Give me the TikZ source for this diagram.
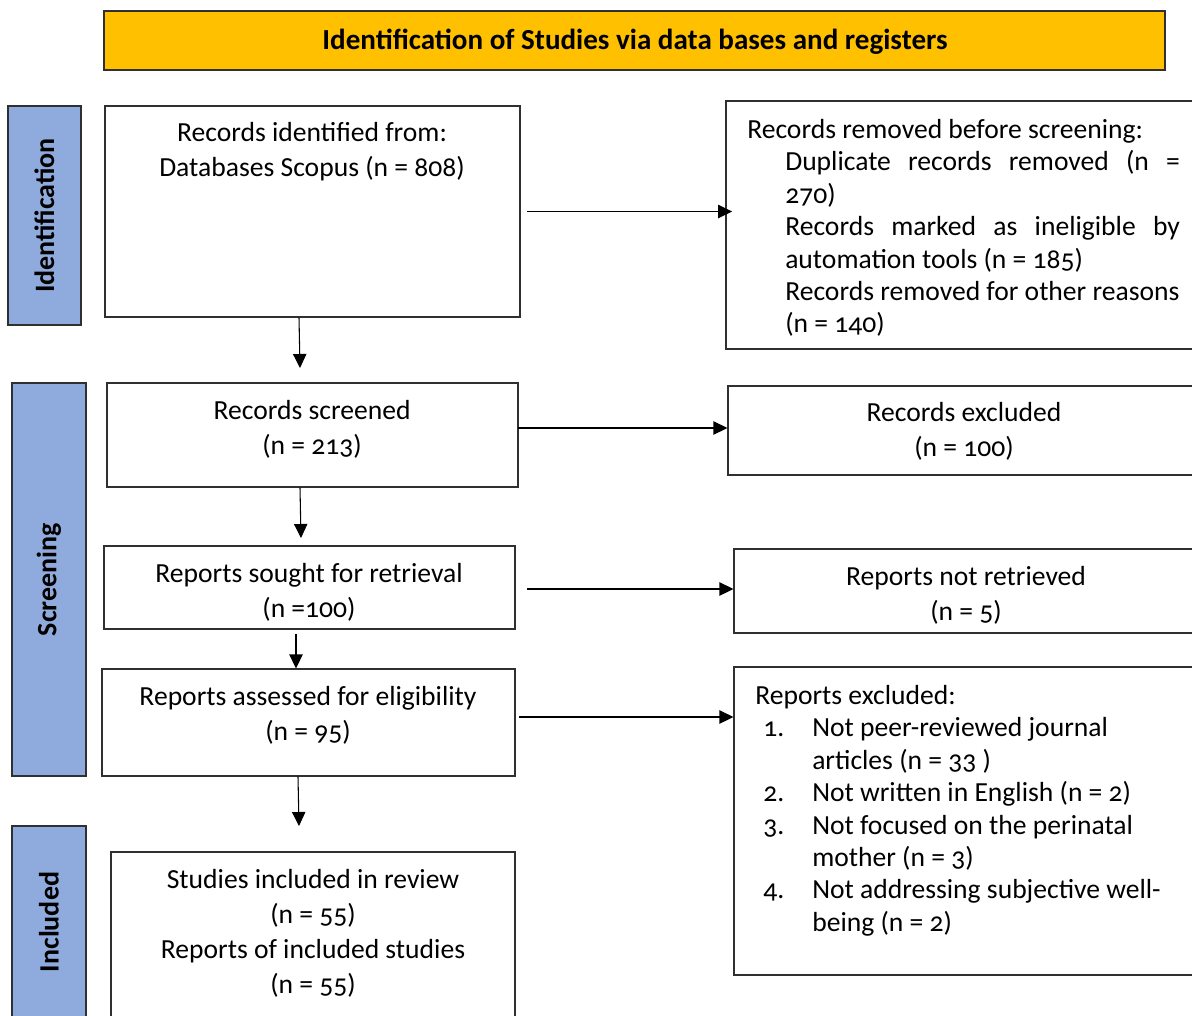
\documentclass[tikz,border=0pt]{standalone}
\usepackage{fontspec}
\setmainfont[Numbers=OldStyle]{Carlito}
\usetikzlibrary{arrows.meta,fit}
\definecolor{gold}{HTML}{FFC000}
\definecolor{sideblue}{HTML}{8FAADC}
\definecolor{boxline}{HTML}{303030}
\begin{document}
\begin{tikzpicture}[x=0.75pt,y=-0.75pt,
  box/.style={draw=boxline,line width=0.8pt,fill=white,inner sep=0pt},
  side/.style={draw=boxline,line width=0.8pt,fill=sideblue,inner sep=0pt},
  sidetext/.style={rotate=90,font=\bfseries\fontsize{21}{24}\selectfont,inner sep=0pt},
  body/.style={font=\fontsize{20.7}{26.25}\selectfont,inner sep=0pt,align=center},
  listtext/.style={font=\fontsize{20.7}{24.3}\selectfont,inner sep=0pt,align=left,anchor=north west},
  arr/.style={-{Triangle[length=10.5pt,width=10pt]},line width=0.8pt,black}]
\useasboundingbox (0,0) rectangle (1192,1015);
\fill[white] (0,0) rectangle (1192,1015);

% title
\node[box,fill=gold,fit={(104,11) (1165,70)}] (titlebox) {};
\node[font=\bfseries\fontsize{21.8}{24}\selectfont,inner sep=0pt] (title) at (635,41.5) {Identification of Studies via data bases and registers};

% side bars
\node[side,fit={(8,106) (81,325)}] (sid) {};
\node[sidetext] (sidt) at (sid.center) {Identification};
\node[side,fit={(12,383) (86,776)}] (ssc) {};
\node[sidetext] (ssct) at (ssc.center) {Screening};
\node[side,fit={(12,826) (86,1025)}] (sin) {};
\node[sidetext] (sint) at (49,922) {Included};

% boxes
\node[box,fit={(105,106) (520,317)}] (b1) {};
\node[body,anchor=north] (t1) at (312,122) {Records identified from:\\Databases Scopus (n = 808)};

\node[box,fit={(726,101) (1196,349)}] (b2) {};
\node[listtext] (t2) at (747,119) {Records removed before screening:\\
\hspace*{28.5pt}\makebox[296pt][s]{Duplicate records removed (n =}\\
\hspace*{28.5pt}270)\\
\hspace*{28.5pt}\makebox[296pt][s]{Records marked as ineligible by}\\
\hspace*{28.5pt}automation tools (n = 185)\\
\hspace*{28.5pt}Records removed for other reasons\\
\hspace*{28.5pt}(n = 140)};

\node[box,fit={(107,383) (518,487)}] (b3) {};
\node[body,anchor=north] (t3) at (312,400) {Records screened\\(n = 213)};

\node[box,fit={(728,386) (1196,475)}] (b4) {};
\node[body,anchor=north] (t4) at (964,402) {Records excluded\\(n = 100)};

\node[box,fit={(104,546) (515,629)}] (b5) {};
\node[body,anchor=north] (t5) at (309,563) {Reports sought for retrieval\\(n =100)};

\node[box,fit={(734,549) (1196,633)}] (b6) {};
\node[body,anchor=north] (t6) at (966,566) {Reports not retrieved\\(n = 5)};

\node[box,fit={(102,669) (515,776)}] (b7) {};
\node[body,anchor=north] (t7) at (308,686) {Reports assessed for eligibility\\(n = 95)};

\node[box,fit={(734,667) (1196,975)}] (b8) {};
\node[listtext] (t8) at (755,685) {Reports excluded:\\
\hspace*{6pt}\makebox[36.75pt][l]{1.}Not peer-reviewed journal\\
\hspace*{42.75pt}articles (n = 33 )\\
\hspace*{6pt}\makebox[36.75pt][l]{2.}Not written in English (n = 2)\\
\hspace*{6pt}\makebox[36.75pt][l]{3.}Not focused on the perinatal\\
\hspace*{42.75pt}mother (n = 3)\\
\hspace*{6pt}\makebox[36.75pt][l]{4.}Not addressing subjective well-\\
\hspace*{42.75pt}being (n = 2)};

\node[box,fit={(111,852) (515,1025)}] (b9) {};
\node[body,anchor=north] (t9) at (313,869) {Studies included in review\\(n = 55)\\Reports of included studies\\(n = 55)};

% horizontal arrows
\draw[arr] ([xshift=5pt]b1.east) -- ([xshift=5pt]b1.east -| b2.west);
\coordinate (h3) at (518,428);
\draw[arr] (h3) -- (h3 -| b4.west);
\coordinate (h5) at (527,589);
\draw[arr] (h5) -- (h5 -| b6.west);
\coordinate (h7) at (519,717);
\draw[arr] (h7) -- (h7 -| b8.west);

% vertical arrows
\coordinate (v1) at (300,368);
\draw[arr] (b1.south -| 299,0) -- (v1);
\coordinate (v3) at (301,538);
\draw[arr] (b3.south -| 300,0) -- (v3);
\coordinate (v5) at (296,634);
\draw[arr] (v5) -- (v5 |- b7.north);
\coordinate (v7) at (299,826);
\draw[arr] (b7.south -| 298,0) -- (v7);
\end{tikzpicture}
\end{document}
